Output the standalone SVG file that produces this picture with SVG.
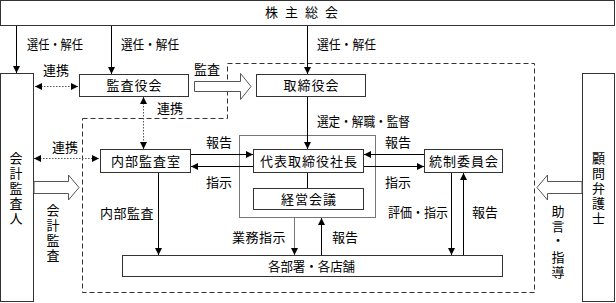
<svg xmlns="http://www.w3.org/2000/svg" width="616" height="303" viewBox="0 0 616 303">
<style>
text{font-family:"Noto Sans CJK JP","Noto Sans CJK SC",sans-serif;font-size:13px;fill:#000}
.bt{text-anchor:middle;letter-spacing:1px}
.vt{text-anchor:middle}
.box{fill:#fff;stroke:#333;stroke-width:1}
.gbox{fill:none;stroke:#777;stroke-width:1}
.ln{fill:none;stroke:#000;stroke-width:1}
.gl{fill:none;stroke:#777;stroke-width:1}
.dot{fill:none;stroke:#555;stroke-width:1;stroke-dasharray:1.5 1.5}
.dash{fill:none;stroke:#333;stroke-width:1;stroke-dasharray:5 3}
.hol{fill:#fff;stroke:#555;stroke-width:1}
</style>
<defs>
<marker id="ah" viewBox="0 0 7 7" refX="7" refY="3.5" markerWidth="7" markerHeight="7" markerUnits="userSpaceOnUse" orient="auto-start-reverse">
<path d="M0,0 L7,3.5 L0,7 z" fill="#000"/>
</marker>
</defs>

<path class="dash" d="M82.5,118.5 H227.5 V63.5 H534.5 V292.5 H82.5 Z"/>

<g id="shareholders">
<rect class="box" x="0.5" y="0.5" width="614" height="25"/>
<text x="265 277 285 297 305 317 325" y="17" font-size="12">株 主 総 会</text>
</g>
<g id="accounting-auditor">
<rect class="box" x="0.5" y="73.5" width="33" height="228"/>
<text class="vt" x="16 16 16 16 16" y="162.5 177.5 192.5 207.5 222.5">会計監査人</text>
</g>
<g id="audit-board">
<rect class="box" x="79.5" y="74.5" width="109" height="22"/>
<text class="bt" x="134.5" y="90">監査役会</text>
</g>
<g id="board">
<rect class="box" x="256.5" y="74.5" width="109" height="22"/>
<text class="bt" x="311.5" y="90">取締役会</text>
</g>
<g id="internal-audit">
<rect class="box" x="100.5" y="149.5" width="90" height="23"/>
<text class="bt" x="146" y="165.5">内部監査室</text>
</g>
<g id="president-group">
<rect class="gbox" x="239.5" y="135.5" width="136" height="82"/>
</g>
<g id="president">
<rect class="box" x="253.5" y="149.5" width="110" height="23"/>
<text class="bt" x="309" y="165.5">代表取締役社長</text>
</g>
<g id="management-meeting">
<rect class="box" x="253.5" y="188.5" width="110" height="21"/>
<text class="bt" x="309" y="203.5">経営会議</text>
</g>
<g id="control-committee">
<rect class="box" x="424.5" y="149.5" width="78" height="23"/>
<text class="bt" x="464" y="165.5">統制委員会</text>
</g>
<g id="departments">
<rect class="box" x="122.5" y="255.5" width="380" height="21"/>
<text x="268" y="270.5" textLength="87" lengthAdjust="spacingAndGlyphs">各部署・各店舗</text>
</g>
<g id="legal-advisor">
<rect class="box" x="582.5" y="73.5" width="32" height="228"/>
<text class="vt" x="598.5 598.5 598.5 598.5 598.5" y="162.5 177.5 192.5 207.5 222.5">顧問弁護士</text>
</g>

<g id="connectors">
<line class="ln" x1="16.5" y1="26" x2="16.5" y2="73" marker-end="url(#ah)"/>
<line class="ln" x1="111.5" y1="26" x2="111.5" y2="74" marker-end="url(#ah)"/>
<line class="ln" x1="307.5" y1="26" x2="307.5" y2="74" marker-end="url(#ah)"/>
<line class="ln" x1="307.5" y1="97" x2="307.5" y2="149" marker-end="url(#ah)"/>
<line class="ln" x1="307.5" y1="173" x2="307.5" y2="188"/>
<line class="ln" x1="191" y1="154.5" x2="253" y2="154.5" marker-end="url(#ah)"/>
<line class="ln" x1="253" y1="166.5" x2="191" y2="166.5" marker-end="url(#ah)"/>
<line class="ln" x1="424" y1="154.5" x2="364" y2="154.5" marker-end="url(#ah)"/>
<line class="ln" x1="364" y1="166.5" x2="424" y2="166.5" marker-end="url(#ah)"/>
<line class="ln" x1="451.5" y1="173" x2="451.5" y2="255" marker-end="url(#ah)"/>
<line class="ln" x1="463.5" y1="255" x2="463.5" y2="173" marker-end="url(#ah)"/>
<line class="ln" x1="158.5" y1="173" x2="158.5" y2="255" marker-end="url(#ah)"/>
<line class="gl" x1="294.5" y1="218" x2="294.5" y2="255" marker-end="url(#ah)"/>
<line class="ln" x1="321.5" y1="255" x2="321.5" y2="218" marker-end="url(#ah)"/>
<line class="dot" x1="35" y1="86.5" x2="78" y2="86.5" marker-start="url(#ah)" marker-end="url(#ah)"/>
<line class="dot" x1="143.5" y1="97" x2="143.5" y2="149" marker-start="url(#ah)" marker-end="url(#ah)"/>
<line class="dot" x1="34" y1="158.5" x2="99" y2="158.5" marker-start="url(#ah)" marker-end="url(#ah)"/>
<path class="hol" d="M194.5,81.5 H240.5 V73.5 L251,86.5 L240.5,99.5 V91.5 H194.5 Z"/>
<path class="hol" d="M34,181.5 H68.5 V175 L79,187.5 L68.5,200 V193.5 H34 Z"/>
<path class="hol" d="M582,181.5 H547.5 V175 L537,187.5 L547.5,200 V193.5 H582 Z"/>
</g>

<g id="labels">
<text x="27" y="48.5" textLength="56" lengthAdjust="spacingAndGlyphs">選任・解任</text>
<text x="121" y="48.5" textLength="58" lengthAdjust="spacingAndGlyphs">選任・解任</text>
<text x="317" y="48.5" textLength="59" lengthAdjust="spacingAndGlyphs">選任・解任</text>
<text x="43" y="74.5">連携</text>
<text x="194" y="74">監査</text>
<text x="157" y="112.5">連携</text>
<text x="52" y="152">連携</text>
<text x="317" y="125.5" textLength="93" lengthAdjust="spacingAndGlyphs">選定・解職・監督</text>
<text x="206" y="147">報告</text>
<text x="206" y="187">指示</text>
<text x="385" y="147">報告</text>
<text x="385" y="187">指示</text>
<text x="388" y="217" textLength="60" lengthAdjust="spacingAndGlyphs">評価・指示</text>
<text x="472" y="217">報告</text>
<text x="100" y="218" letter-spacing="0.5">内部監査</text>
<text x="232" y="242" letter-spacing="0.5">業務指示</text>
<text x="332" y="242">報告</text>
<text class="vt" x="53 53 53 53" y="214.5 229.5 244.5 259.5">会計監査</text>
<text class="vt" x="558 558 558 558 558" y="215.5 230.5 245 262 277">助言・指導</text>
</g>
</svg>
